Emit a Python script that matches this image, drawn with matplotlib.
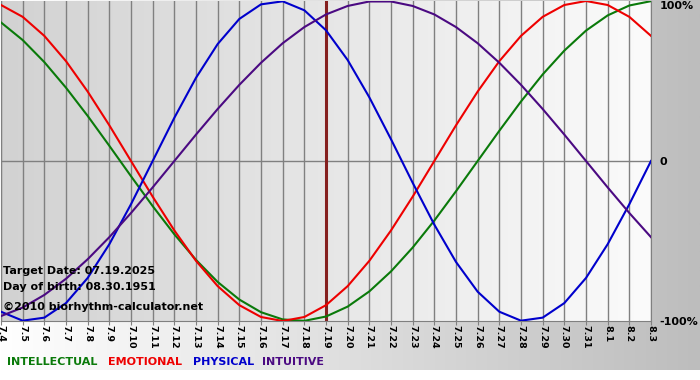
import numpy as np
import matplotlib.pyplot as plt
from matplotlib.colors import LinearSegmentedColormap

# dates shown on the x axis (7.4 .. 8.3)
days = ['7.' + str(d) for d in range(4, 32)] + ['8.1', '8.2', '8.3']
target_idx = days.index('7.19')

# biorhythm values, one per day
physical = [-0.942, -0.998, -0.979, -0.888, -0.731, -0.520, -0.270, 0.000,
            0.270, 0.520, 0.731, 0.888, 0.979, 0.998, 0.942, 0.817,
            0.631, 0.398, 0.136, -0.136, -0.398, -0.631, -0.817, -0.942,
            -0.998, -0.979, -0.888, -0.731, -0.520, -0.270, 0.000]
emotional = [0.975, 0.901, 0.782, 0.624, 0.434, 0.223, 0.000, -0.223,
             -0.434, -0.624, -0.782, -0.901, -0.975, -1.000, -0.975, -0.901,
             -0.782, -0.624, -0.434, -0.223, 0.000, 0.223, 0.434, 0.624,
             0.782, 0.901, 0.975, 1.000, 0.975, 0.901, 0.782]
intellectual = [0.866, 0.756, 0.618, 0.458, 0.282, 0.095, -0.095, -0.282,
                -0.458, -0.618, -0.756, -0.866, -0.945, -0.990, -0.999, -0.972,
                -0.910, -0.815, -0.690, -0.541, -0.372, -0.189, 0.000, 0.189,
                0.372, 0.541, 0.690, 0.815, 0.910, 0.972, 0.999]
intuitive = [-0.969, -0.916, -0.837, -0.736, -0.614, -0.476, -0.325, -0.165,
             0.000, 0.165, 0.325, 0.476, 0.614, 0.736, 0.837, 0.916,
             0.969, 0.997, 0.997, 0.969, 0.916, 0.837, 0.736, 0.614,
             0.476, 0.325, 0.165, 0.000, -0.165, -0.325, -0.476]

series = [('INTELLECTUAL', intellectual, '#0a7a0a'),
          ('EMOTIONAL', emotional, '#ee0000'),
          ('PHYSICAL', physical, '#0000cc'),
          ('INTUITIVE', intuitive, '#4b0a82')]

W, H = 700, 380
fig = plt.figure(figsize=(W / 100, H / 100), dpi=100)
fig.patch.set_facecolor('white')

# outer background: white -> gray gradient
bg = fig.add_axes([0, 0, 1, 1], zorder=0)
bg.axis('off')
grad = np.linspace(0, 1, 256).reshape(1, -1)
outer_cmap = LinearSegmentedColormap.from_list('outer', ['#ffffff', '#bdbdbd'])
bg.imshow(grad, aspect='auto', cmap=outer_cmap, extent=[0, 1, 10 / H, 1])
bg.set_xlim(0, 1)
bg.set_ylim(0, 1)

ax = fig.add_axes([1 / W, 59 / H, 650 / W, 320 / H], zorder=1)
ax.set_facecolor('none')
inner_cmap = LinearSegmentedColormap.from_list('inner', ['#d2d2d2', '#fbfbfb'])
x = np.arange(len(days))
ax.imshow(grad, aspect='auto', cmap=inner_cmap,
          extent=[0, len(days) - 1, -1, 1], zorder=0)

for xi in x:
    ax.axvline(xi, color='#808080', lw=1, zorder=1)
ax.axhline(0, color='#808080', lw=1, zorder=1)
ax.axvline(target_idx, color='#85201f', lw=2.2, zorder=2)

for name, vals, col in series:
    ax.plot(x, vals, color=col, lw=1.5, zorder=3)

ax.set_xlim(0, len(days) - 1)
ax.set_ylim(-1, 1)
ax.set_xticks(x)
ax.set_xticklabels(days, rotation=-90, fontsize=6.8, fontweight='bold')
ax.tick_params(axis='x', length=3, color='#808080', pad=0)

ax.yaxis.tick_right()
ax.set_yticks([-1, 0, 1])
ylabels = ax.set_yticklabels(['-100%', '0', '100%'], fontsize=8,
                             fontweight='bold')
ylabels[2].set_va('top')
ax.tick_params(axis='y', length=0, pad=6)

ax.spines['top'].set_visible(False)
for side in ['left', 'right', 'bottom']:
    ax.spines[side].set_color('#808080')

info = [('Target Date: 07.19.2025', 271), ('Day of birth: 08.30.1951', 287),
        ('\u00a92010 biorhythm-calculator.net', 307)]
for txt, yp in info:
    fig.text(3 / W, 1 - yp / H, txt, fontsize=8, fontweight='bold',
             va='center', ha='left', zorder=5)

# coloured legend words
legend_x = [7, 108, 193, 262]
for (name, vals, col), lx in zip(series, legend_x):
    fig.text(lx / W, 1 - 362 / H, name, color=col, fontsize=8,
             fontweight='bold', va='center', ha='left')

fig.savefig('out.png', dpi=100)
